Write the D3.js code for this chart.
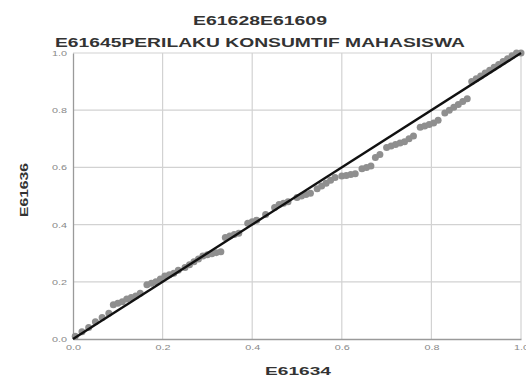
<!DOCTYPE html>
<html>
<head>
<meta charset="utf-8">
<script src="https://cdn.jsdelivr.net/npm/d3@7"></script>
<style>
  html, body { margin: 0; padding: 0; background: #fff; }
  svg { display: block; }
</style>
</head>
<body>
<svg id="chart" width="526" height="376"></svg>
<script>
// ---- data ----
const titleLine1 = "E61628E61609";
const titleLine2 = "E61645PERILAKU KONSUMTIF MAHASISWA";
const xAxisTitle = "E61634";
const yAxisTitle = "E61636";
const tickValues = [0, 0.2, 0.4, 0.6, 0.8, 1.0];
const tickLabels = ["0.0", "0.2", "0.4", "0.6", "0.8", "1.0"];

// expected cumulative probability (x) and observed cumulative probability (y)
const expectedProb = [0.005,0.02,0.035,0.05,0.065,0.08,0.09,0.10,0.11,0.12,0.13,0.14,0.15,0.165,0.175,0.185,0.195,0.205,0.215,0.225,0.235,0.25,0.26,0.27,0.28,0.29,0.30,0.31,0.32,0.33,0.34,0.35,0.36,0.37,0.39,0.40,0.41,0.43,0.45,0.46,0.47,0.48,0.50,0.51,0.52,0.53,0.545,0.555,0.565,0.575,0.585,0.60,0.61,0.62,0.63,0.645,0.655,0.665,0.675,0.685,0.70,0.71,0.72,0.73,0.74,0.75,0.76,0.775,0.785,0.795,0.805,0.815,0.83,0.84,0.85,0.86,0.87,0.88,0.89,0.90,0.91,0.92,0.93,0.94,0.95,0.96,0.97,0.98,0.99,1.0];
const observedProb = [0.01,0.025,0.04,0.06,0.075,0.09,0.12,0.125,0.13,0.14,0.145,0.15,0.16,0.19,0.195,0.20,0.21,0.22,0.225,0.23,0.24,0.25,0.26,0.27,0.28,0.29,0.295,0.298,0.302,0.305,0.355,0.36,0.365,0.37,0.405,0.41,0.415,0.435,0.46,0.47,0.475,0.48,0.495,0.50,0.505,0.51,0.525,0.535,0.545,0.555,0.565,0.57,0.572,0.575,0.578,0.595,0.60,0.605,0.635,0.645,0.67,0.675,0.68,0.685,0.69,0.70,0.71,0.74,0.745,0.75,0.755,0.765,0.79,0.80,0.81,0.82,0.83,0.84,0.90,0.91,0.92,0.93,0.94,0.95,0.96,0.97,0.98,0.99,1.0,1.0];
const refLine = [[0, 0], [1, 1]];

// ---- drawing ----
const svg = d3.select("#chart");
const x = d3.scaleLinear().domain([0, 1]).range([73, 521]);
const y = d3.scaleLinear().domain([0, 1]).range([339, 53]);

// gridlines
const grid = svg.append("g");
grid.selectAll("line.v").data(tickValues.slice(1)).join("line")
  .attr("x1", d => x(d)).attr("x2", d => x(d))
  .attr("y1", y(0)).attr("y2", y(1))
  .attr("stroke", "#d2d2d2").attr("stroke-width", 1.2);
grid.selectAll("line.h").data(tickValues.slice(1)).join("line")
  .attr("y1", d => y(d)).attr("y2", d => y(d))
  .attr("x1", x(0)).attr("x2", x(1))
  .attr("stroke", "#d2d2d2").attr("stroke-width", 1.2);

// axes
const xAxis = d3.axisBottom(x).tickValues(tickValues)
  .tickFormat((d, i) => tickLabels[i]).tickSize(0).tickPadding(5);
const yAxis = d3.axisLeft(y).tickValues(tickValues)
  .tickFormat((d, i) => tickLabels[i]).tickSize(0).tickPadding(6);

const gx = svg.append("g").attr("transform", `translate(0,${y(0)})`).call(xAxis);
const gy = svg.append("g").attr("transform", `translate(${x(0)},0)`).call(yAxis);
[gx, gy].forEach(g => {
  g.select(".domain").attr("stroke", "#9a9a9a").attr("stroke-width", 1.3);
  g.selectAll("text")
    .attr("font-family", "Liberation Sans, Arial, sans-serif")
    .attr("font-size", 8)
    .attr("fill", "#888")
    .attr("textLength", 15)
    .attr("lengthAdjust", "spacingAndGlyphs");
});

// points
svg.append("g").selectAll("circle")
  .data(expectedProb.map((e, i) => [e, observedProb[i]]))
  .join("circle")
  .attr("cx", d => x(d[0]))
  .attr("cy", d => y(d[1]))
  .attr("r", 3.5)
  .attr("fill", "#8f8f8f");

// reference line
svg.append("path")
  .datum(refLine)
  .attr("d", d3.line().x(d => x(d[0])).y(d => y(d[1])))
  .attr("stroke", "#111")
  .attr("stroke-width", 2.4)
  .attr("fill", "none");

// titles
const font = "Liberation Sans, Arial, sans-serif";
svg.append("text").text(titleLine1)
  .attr("x", 260).attr("y", 25).attr("text-anchor", "middle")
  .attr("font-family", font).attr("font-weight", "bold").attr("font-size", 13)
  .attr("fill", "#333")
  .attr("textLength", 134).attr("lengthAdjust", "spacingAndGlyphs");
svg.append("text").text(titleLine2)
  .attr("x", 260).attr("y", 47).attr("text-anchor", "middle")
  .attr("font-family", font).attr("font-weight", "bold").attr("font-size", 12)
  .attr("fill", "#333")
  .attr("textLength", 410).attr("lengthAdjust", "spacingAndGlyphs");
svg.append("text").text(xAxisTitle)
  .attr("x", 298).attr("y", 375).attr("text-anchor", "middle")
  .attr("font-family", font).attr("font-weight", "bold").attr("font-size", 11)
  .attr("fill", "#333")
  .attr("textLength", 66).attr("lengthAdjust", "spacingAndGlyphs");
svg.append("text").text(yAxisTitle)
  .attr("transform", "translate(28,190) rotate(-90)")
  .attr("text-anchor", "middle")
  .attr("font-family", font).attr("font-weight", "bold").attr("font-size", 11)
  .attr("fill", "#333")
  .attr("textLength", 54).attr("lengthAdjust", "spacingAndGlyphs");
</script>
</body>
</html>
